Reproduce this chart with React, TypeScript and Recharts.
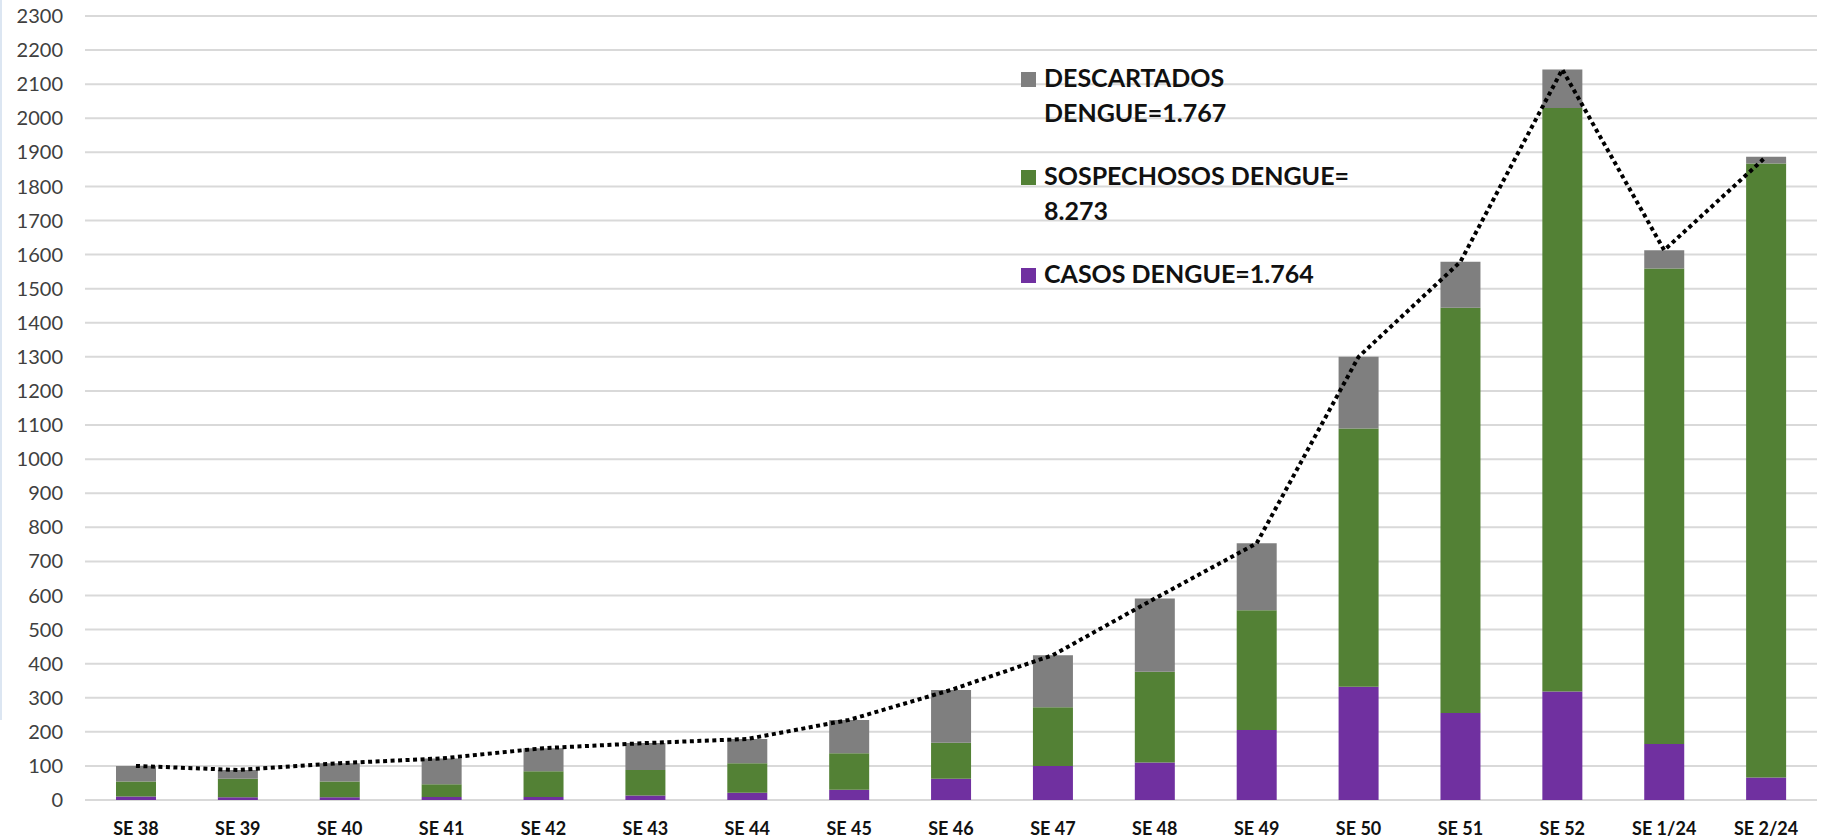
import { ComposedChart, Bar, Line, XAxis, YAxis, CartesianGrid, Legend } from "recharts";

const weeks = ["SE 38", "SE 39", "SE 40", "SE 41", "SE 42", "SE 43", "SE 44", "SE 45", "SE 46", "SE 47", "SE 48", "SE 49", "SE 50", "SE 51", "SE 52", "SE 1/24", "SE 2/24"];
const casos = [10, 8, 8, 9, 9, 13, 21, 30, 62, 100, 110, 205, 332, 255, 318, 164, 66];
const sospechosos = [44, 54, 46, 37, 75, 75, 87, 107, 106, 172, 266, 352, 758, 1189, 1712, 1395, 1801];
const descartados = [46, 26, 54, 76, 68, 79, 71, 98, 155, 153, 215, 196, 210, 135, 113, 54, 20];
const yTicks = [0, 100, 200, 300, 400, 500, 600, 700, 800, 900, 1000, 1100, 1200, 1300, 1400, 1500, 1600, 1700, 1800, 1900, 2000, 2100, 2200, 2300];

const legendItems = [
  { color: "#7f7f7f", lines: ["DESCARTADOS", "DENGUE=1.767"] },
  { color: "#538135", lines: ["SOSPECHOSOS DENGUE=", "8.273"] },
  { color: "#7030a0", lines: ["CASOS DENGUE=1.764"] },
];

const data = weeks.map((week, i) => ({
  week,
  casos: casos[i],
  sospechosos: sospechosos[i],
  descartados: descartados[i],
  total: casos[i] + sospechosos[i] + descartados[i],
}));

const font = "Lato, 'Open Sans', sans-serif";

function DengueLegend() {
  return (
    <div style={{ fontFamily: font, fontWeight: 700, fontSize: 25, lineHeight: "35px", color: "#111" }}>
      {legendItems.map((item) => (
        <div key={item.lines[0]} style={{ display: "flex", marginBottom: 28 }}>
          <div style={{ width: 15, height: 15, background: item.color, marginTop: 12, marginRight: 8, flexShrink: 0 }} />
          <div>
            {item.lines.map((l) => (
              <div key={l} style={{ whiteSpace: "nowrap" }}>{l}</div>
            ))}
          </div>
        </div>
      ))}
    </div>
  );
}

export default function App() {
  return (
    <div style={{ position: "absolute", left: 0, top: 0, width: 1824, height: 840, background: "#fff" }}>
      <div style={{ position: "absolute", left: 0, top: 0, width: 2, height: 720, background: "#dce6f2" }} />
      <ComposedChart width={1824} height={840} data={data} margin={{ top: 16, right: 7, bottom: 0, left: 0 }}>
        <CartesianGrid vertical={false} stroke="#d9d9d9" strokeWidth={2} />
        <XAxis
          dataKey="week"
          height={40}
          axisLine={false}
          tickLine={false}
          tickMargin={16}
          interval={0}
          tick={{ fill: "#111", fontSize: 18, fontWeight: 700, fontFamily: font }}
        />
        <YAxis
          width={85}
          domain={[0, 2300]}
          ticks={yTicks}
          interval={0}
          axisLine={false}
          tickLine={false}
          tickMargin={16}
          tick={{ fill: "#404040", fontSize: 20, fontFamily: font }}
        />
        <Legend
          layout="vertical"
          align="center"
          verticalAlign="middle"
          wrapperStyle={{ left: 1021, top: 60, width: 360 }}
          content={() => <DengueLegend />}
        />
        <Bar dataKey="casos" stackId="a" fill="#7030a0" barSize={40} isAnimationActive={false} />
        <Bar dataKey="sospechosos" stackId="a" fill="#538135" barSize={40} isAnimationActive={false} />
        <Bar dataKey="descartados" stackId="a" fill="#7f7f7f" barSize={40} isAnimationActive={false} />
        <Line
          dataKey="total"
          type="linear"
          stroke="#000"
          strokeWidth={4}
          strokeDasharray="4 3.5"
          dot={false}
          activeDot={false}
          isAnimationActive={false}
        />
      </ComposedChart>
    </div>
  );
}
